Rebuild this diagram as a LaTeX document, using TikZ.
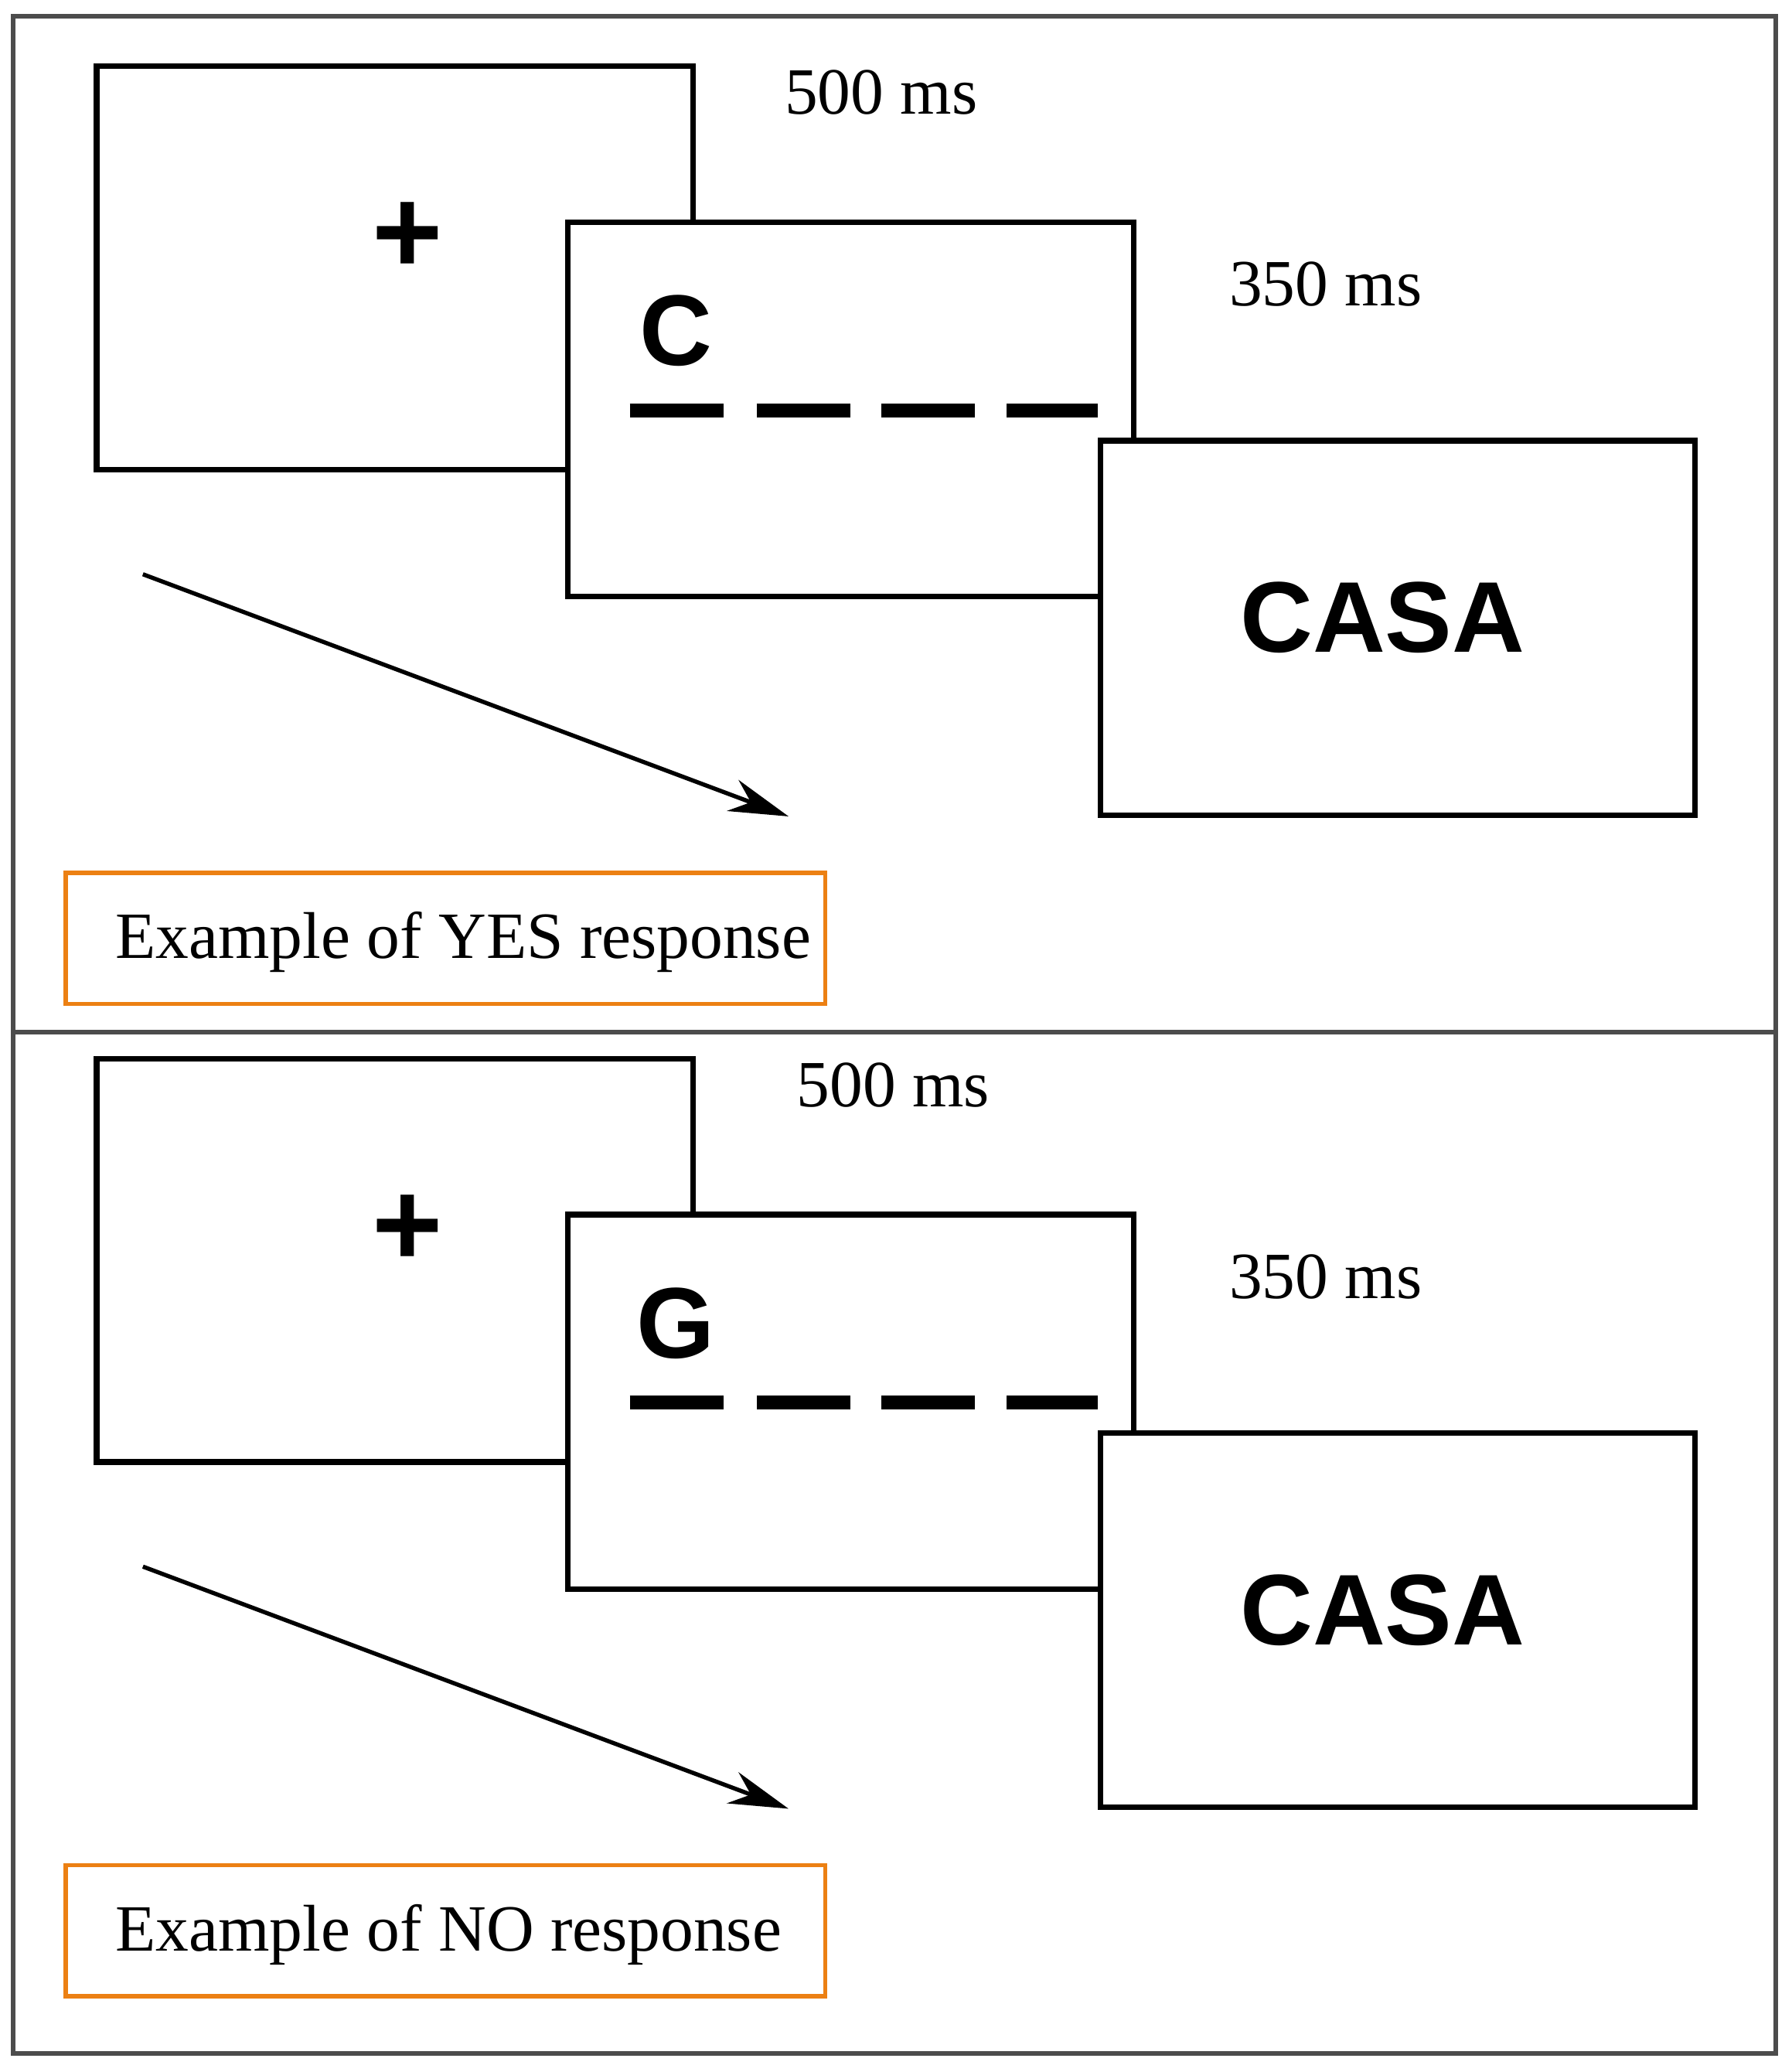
\documentclass[tikz,border=0pt]{standalone}
\usepackage{fontspec}
\setmainfont{Liberation Serif}
\newfontfamily\sansb{Liberation Sans}
\usetikzlibrary{arrows.meta}
\begin{document}
\begin{tikzpicture}[x=0.01cm,y=-0.01cm,
  scr/.style={draw=black,line width=1.2pt,fill=white},
  ms/.style={font=\fontsize{14.2}{16}\selectfont},
  big/.style={font=\sansb\bfseries\fontsize{21.6}{24}\selectfont},
  lbl/.style={draw=orange!70!brown,line width=0.9pt,fill=white,font=\fontsize{14.2}{16}\selectfont},
  blank/.style={line width=3pt},
  arr/.style={line width=0.9pt,-{Stealth[length=0.45cm,width=0.25cm]}}]
\useasboundingbox (0,0) rectangle (1354,1566);
\draw[line width=1pt,draw=black!70] (10,12) rectangle (1342,1552);
\draw[line width=1pt,draw=black!70] (10,780) -- (1342,780);
\foreach \dy/\ltr/\lab/\dx in {0/C/YES/0,750/G/NO/9}{
  \begin{scope}[yshift=-\dy*0.01cm]
  \draw[scr] (73,50) rectangle (524,355);
  \node[font=\sansb\bfseries\fontsize{26}{28}\selectfont] (plus\lab) at (308,180) {+};
  \draw[scr] (429,168) rectangle (857,451);
  \node[big,anchor=center] (let\lab) at (511,250) {\ltr};
  \foreach \a/\b in {476/547,572/643,666/737,761/830} \draw[blank] (\a,310) -- (\b,310);
  \draw[scr] (832,333) rectangle (1281,616);
  \node[big] (casa\lab) at (1045,467) {CASA};
  \node[ms] (t1\lab) at (666+\dx,70) {500 ms};
  \node[ms] (t2\lab) at (1002,215) {350 ms};
  \coordinate (as\lab) at (108,434);
  \coordinate (ae\lab) at (596,617);
  \draw[arr] (as\lab) -- (ae\lab);
  \node[lbl,minimum width=5.74cm,minimum height=0.99cm,anchor=north west,inner sep=0pt] (box\lab) at (48,658) {};
  \node[ms,anchor=west] (ex\lab) at (75,712) {Example of \lab\ response};
  \end{scope}
}
\end{tikzpicture}
\end{document}
